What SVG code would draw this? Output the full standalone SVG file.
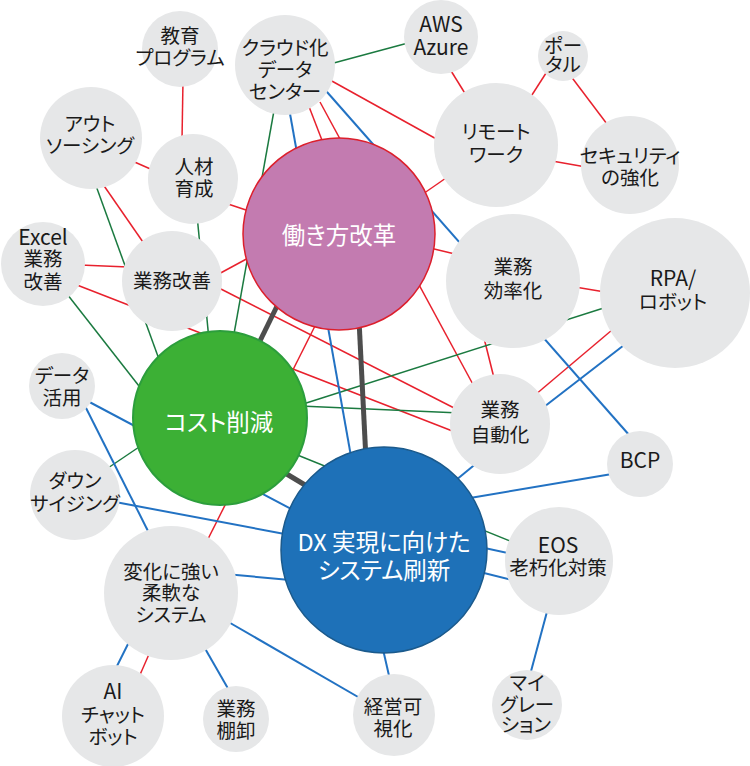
<svg xmlns="http://www.w3.org/2000/svg" width="750" height="766" viewBox="0 0 750 766">
<style>
.r{stroke:#e8212d;stroke-width:1.5;fill:none}
.g{stroke:#1b7a40;stroke-width:1.5;fill:none}
.b{stroke:#2272c3;stroke-width:2;fill:none}
.k{stroke:#4d4d4d;stroke-width:5;fill:none}
.n{fill:#e6e7e8}
text{font-family:"Noto Sans CJK JP","Noto Sans",sans-serif;text-anchor:middle;font-feature-settings:"palt"}
.t{font-size:19.5px;fill:#1a1a1a}
.l{font-size:21px}
.w{font-size:23.5px;fill:#ffffff}
</style>
<rect width="750" height="766" fill="#ffffff"/>
<g id="connectors">
<line class="r" x1="183" y1="80" x2="182" y2="140"/>
<line class="r" x1="130" y1="160" x2="155" y2="171"/>
<line class="r" x1="225" y1="203" x2="252" y2="212"/>
<line class="r" x1="100" y1="180" x2="145" y2="245"/>
<line class="r" x1="80" y1="265" x2="128" y2="267"/>
<line class="r" x1="215" y1="276" x2="252" y2="256"/>
<line class="r" x1="215" y1="286" x2="460" y2="411"/>
<line class="r" x1="77" y1="285" x2="455" y2="432"/>
<line class="r" x1="205" y1="545" x2="318" y2="320"/>
<line class="r" x1="308" y1="104" x2="325" y2="148"/>
<line class="r" x1="320" y1="102" x2="476" y2="390"/>
<line class="r" x1="330" y1="80" x2="440" y2="141"/>
<line class="r" x1="420" y1="196" x2="446" y2="178"/>
<line class="r" x1="430" y1="248" x2="455" y2="254"/>
<line class="r" x1="484" y1="338" x2="494" y2="378"/>
<line class="r" x1="575" y1="287" x2="605" y2="292"/>
<line class="r" x1="535" y1="395" x2="612" y2="330"/>
<line class="r" x1="448" y1="66" x2="466" y2="95"/>
<line class="r" x1="548" y1="70" x2="530" y2="98"/>
<line class="r" x1="570" y1="75" x2="610" y2="128"/>
<line class="r" x1="552" y1="161" x2="586" y2="167"/>
<line class="r" x1="150" y1="652" x2="139" y2="677"/>
<line class="g" x1="330" y1="64" x2="408" y2="43"/>
<line class="g" x1="275" y1="105" x2="232" y2="345"/>
<line class="g" x1="197" y1="215" x2="209" y2="340"/>
<line class="g" x1="95" y1="183" x2="160" y2="362"/>
<line class="g" x1="60" y1="285" x2="146" y2="395"/>
<line class="g" x1="105" y1="470" x2="145" y2="443"/>
<line class="g" x1="300" y1="405" x2="610" y2="306"/>
<line class="g" x1="300" y1="406" x2="460" y2="413"/>
<line class="g" x1="290" y1="452" x2="515" y2="543"/>
<line class="b" x1="320" y1="84" x2="630" y2="436"/>
<line class="b" x1="289" y1="108" x2="352" y2="462"/>
<line class="b" x1="80" y1="397" x2="295" y2="511"/>
<line class="b" x1="82" y1="400" x2="150" y2="535"/>
<line class="b" x1="110" y1="501" x2="290" y2="535"/>
<line class="b" x1="225" y1="574" x2="290" y2="580"/>
<line class="b" x1="225" y1="620" x2="365" y2="701"/>
<line class="b" x1="203" y1="645" x2="230" y2="692"/>
<line class="b" x1="130" y1="640" x2="115" y2="670"/>
<line class="b" x1="382" y1="645" x2="390" y2="680"/>
<line class="b" x1="480" y1="547" x2="512" y2="554"/>
<line class="b" x1="480" y1="572" x2="512" y2="580"/>
<line class="b" x1="548" y1="608" x2="530" y2="675"/>
<line class="b" x1="470" y1="498" x2="612" y2="474"/>
<line class="b" x1="450" y1="485" x2="478" y2="462"/>
<line class="b" x1="540" y1="410" x2="628" y2="342"/>
<line class="k" x1="280" y1="300" x2="258" y2="345"/>
<line class="k" x1="359" y1="320" x2="366" y2="460"/>
<line class="k" x1="280" y1="470" x2="310" y2="488"/>
</g>
<g id="n-kyoiku"><circle class="n" cx="180" cy="49" r="38"/><text class="t"><tspan x="180" y="43.4">教育</tspan><tspan x="180" y="65.4">プログラム</tspan></text></g>
<g id="n-cloud"><circle class="n" cx="285" cy="65" r="50"/><text class="t"><tspan x="285" y="55.4">クラウド化</tspan><tspan x="285" y="77.4">データ</tspan><tspan x="285" y="99.4">センター</tspan></text></g>
<g id="n-aws"><circle class="n" cx="441" cy="37" r="37"/><text class="t l"><tspan x="441" y="32">AWS</tspan><tspan x="441" y="55">Azure</tspan></text></g>
<g id="n-portal"><circle class="n" cx="563" cy="56" r="25"/><text class="t"><tspan x="563" y="53.4">ポー</tspan><tspan x="563" y="72.4">タル</tspan></text></g>
<g id="n-remote"><circle class="n" cx="496" cy="145" r="62"/><text class="t"><tspan x="496" y="139.4">リモート</tspan><tspan x="496" y="162.4">ワーク</tspan></text></g>
<g id="n-security"><circle class="n" cx="630" cy="165" r="49"/><text class="t"><tspan x="630" y="163.4">セキュリティ</tspan><tspan x="630" y="185.4">の強化</tspan></text></g>
<g id="n-outsourcing"><circle class="n" cx="91" cy="138" r="51"/><text class="t"><tspan x="90" y="131.4">アウト</tspan><tspan x="90" y="153.4">ソーシング</tspan></text></g>
<g id="n-jinzai"><circle class="n" cx="193" cy="179" r="45"/><text class="t"><tspan x="194" y="174.4">人材</tspan><tspan x="194" y="196.4">育成</tspan></text></g>
<g id="n-excel"><circle class="n" cx="43" cy="264" r="42"/><text class="t"><tspan x="43" y="245" font-size="21">Excel</tspan><tspan x="43" y="266.4">業務</tspan><tspan x="43" y="289.4">改善</tspan></text></g>
<g id="n-kaizen"><circle class="n" cx="172" cy="281" r="50"/><text class="t" x="172" y="288.4">業務改善</text></g>
<g id="n-data"><circle class="n" cx="62" cy="386" r="33"/><text class="t"><tspan x="62" y="383.4">データ</tspan><tspan x="62" y="405.4">活用</tspan></text></g>
<g id="n-downsizing"><circle class="n" cx="75" cy="495" r="45"/><text class="t"><tspan x="75" y="488.4">ダウン</tspan><tspan x="75" y="511.4">サイジング</tspan></text></g>
<g id="n-flexible"><circle class="n" cx="171" cy="593" r="67"/><text class="t"><tspan x="171" y="579.4">変化に強い</tspan><tspan x="171" y="600.4">柔軟な</tspan><tspan x="171" y="622.4">システム</tspan></text></g>
<g id="n-ai"><circle class="n" cx="113" cy="716" r="51"/><text class="t"><tspan x="113" y="699" font-size="21">AI</tspan><tspan x="113" y="722.4">チャット</tspan><tspan x="113" y="744.4">ボット</tspan></text></g>
<g id="n-tanaoroshi"><circle class="n" cx="236" cy="719" r="33"/><text class="t"><tspan x="236" y="716.4">業務</tspan><tspan x="236" y="738.4">棚卸</tspan></text></g>
<g id="n-keiei"><circle class="n" cx="394" cy="715" r="41"/><text class="t"><tspan x="393" y="714.4">経営可</tspan><tspan x="393" y="736.4">視化</tspan></text></g>
<g id="n-migration"><circle class="n" cx="527" cy="705" r="35"/><text class="t"><tspan x="527" y="690.4">マイ</tspan><tspan x="527" y="712.4">グレー</tspan><tspan x="526" y="732.4">ション</tspan></text></g>
<g id="n-eos"><circle class="n" cx="559" cy="561" r="54"/><text class="t"><tspan x="558" y="553" font-size="21">EOS</tspan><tspan x="558" y="575.4">老朽化対策</tspan></text></g>
<g id="n-bcp"><circle class="n" cx="640" cy="464" r="33"/><text class="t l" x="640" y="468">BCP</text></g>
<g id="n-jidoka"><circle class="n" cx="500" cy="424" r="50"/><text class="t"><tspan x="500" y="417.4">業務</tspan><tspan x="500" y="442.4">自動化</tspan></text></g>
<g id="n-koritsu"><circle class="n" cx="513" cy="281" r="67"/><text class="t"><tspan x="513" y="274.4">業務</tspan><tspan x="513" y="298.4">効率化</tspan></text></g>
<g id="n-rpa"><circle class="n" cx="675" cy="293" r="75"/><text class="t"><tspan x="673" y="286" font-size="21">RPA/</tspan><tspan x="673" y="309.4">ロボット</tspan></text></g>
<g id="n-hatarakikata"><circle cx="339" cy="234" r="96" fill="#c37bb0" stroke="#dc1f2c" stroke-width="1.5"/><text class="w" x="339" y="243.9">働き方改革</text></g>
<g id="n-cost"><circle cx="220" cy="418" r="87" fill="#3cb035" stroke="#2c9e3c" stroke-width="2"/><text class="w" x="219" y="430.9">コスト削減</text></g>
<g id="n-dx"><circle cx="384" cy="550" r="103" fill="#1e71b8" stroke="#1b5a8c" stroke-width="1.5"/><text class="w"><tspan x="384" y="550.9">DX 実現に向けた</tspan><tspan x="384" y="578.9">システム刷新</tspan></text></g>
</svg>
